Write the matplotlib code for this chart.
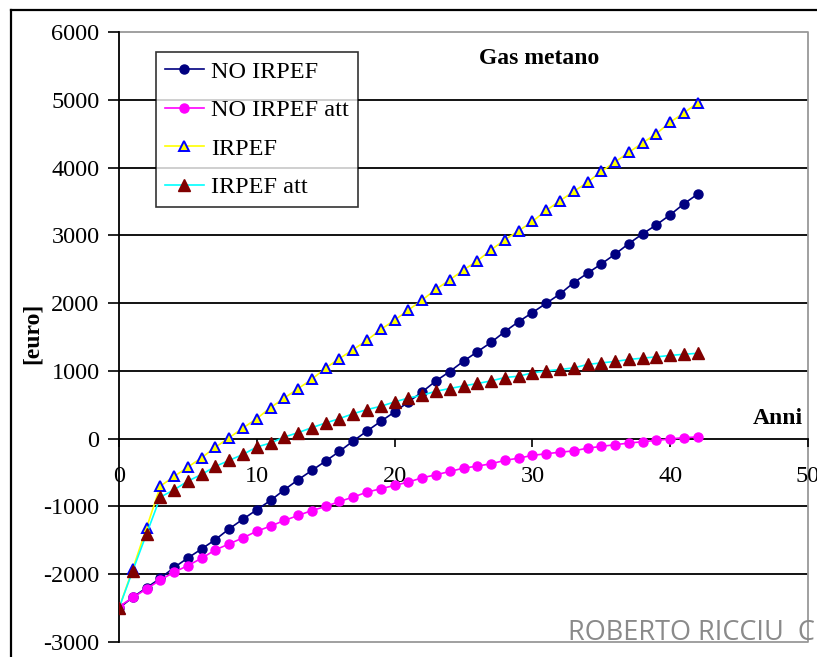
import matplotlib
matplotlib.use("Agg")
import matplotlib.pyplot as plt
from matplotlib.lines import Line2D

plt.rcParams["axes.unicode_minus"] = False

# ---- data ----
anni = list(range(43))

no_irpef = [-2500, -2340, -2200, -2060, -1900, -1760, -1626, -1488, -1330, -1187,
            -1049, -911, -754, -606, -468, -330, -187, -34, 113, 256,
            394, 542, 690, 852, 990, 1143, 1282, 1420, 1580, 1726,
            1860, 1997, 2135, 2302, 2441, 2578, 2722, 2879, 3022, 3155,
            3303, 3466, 3609]

no_irpef_att = [-2480, -2343, -2217, -2084, -1970, -1872, -1764, -1640, -1552, -1463,
                -1365, -1290, -1207, -1133, -1060, -1000, -926, -862, -788, -739,
                -690, -640, -577, -533, -484, -435, -405, -370, -321, -287,
                -247, -222, -200, -180, -140, -114, -89, -65, -45, -25,
                -5, 15, 25]

irpef = [-2500, -1921, -1315, -700, -557, -419, -281, -125, 15, 158,
         296, 458, 601, 739, 877, 1044, 1182, 1315, 1453, 1611,
         1749, 1898, 2046, 2204, 2342, 2490, 2623, 2786, 2934, 3067,
         3205, 3367, 3510, 3648, 3781, 3944, 4083, 4225, 4364, 4501,
         4669, 4808, 4956]

irpef_att = [-2500, -1946, -1404, -862, -754, -626, -527, -409, -320, -232,
             -123, -64, 25, 89, 163, 232, 296, 369, 429, 478,
             542, 600, 641, 700, 740, 778, 814, 852, 902, 922,
             971, 1000, 1021, 1044, 1095, 1118, 1139, 1169, 1188, 1207,
             1228, 1245, 1260]

series_labels = ["NO IRPEF", "NO IRPEF att", "IRPEF", "IRPEF att"]
x_ticks = [0, 10, 20, 30, 40, 50]
y_ticks = [-3000, -2000, -1000, 0, 1000, 2000, 3000, 4000, 5000, 6000]

SERIF = "Liberation Serif"

W, H = 817, 657
fig = plt.figure(figsize=(W / 100, H / 100), dpi=100)
fig.patch.set_facecolor("white")


def fxy(px, py):
    """pixel position (from top-left) -> figure fraction"""
    return px / W, 1 - py / H


# outer frame (open on right/bottom)
fx, fy = fxy(10.5, 9.5)
fig.add_artist(Line2D([fx, fx], [fy, 0], transform=fig.transFigure, color="black", lw=1.6))
fig.add_artist(Line2D([fx, 1], [fy, fy], transform=fig.transFigure, color="black", lw=1.6))

left, right, top, bottom = 119, 808, 32, 642
ax = fig.add_axes([left / W, 1 - bottom / H, (right - left) / W, (bottom - top) / H])
ax.set_xlim(0, 50)
ax.set_ylim(-3000, 6000)

# horizontal grid lines
for yv in y_ticks:
    if -3000 < yv < 6000 and yv != 0:
        ax.axhline(yv, color="black", lw=1.3, zorder=1)

# gray plot-area border
ax.plot([0, 1, 1, 0], [1, 1, 0, 0], transform=ax.transAxes, color="#999999",
        lw=1.3, clip_on=False, zorder=1)

for s in ["top", "right"]:
    ax.spines[s].set_visible(False)
ax.spines["bottom"].set_position(("data", 0))
ax.spines["bottom"].set_linewidth(1.3)
ax.spines["left"].set_linewidth(1.3)
ax.spines["bottom"].set_zorder(2)

ax.set_xticks(x_ticks)
ax.set_yticks(y_ticks)
ax.tick_params(axis="x", direction="out", length=6, width=1.2, pad=14,
               labelsize=17.5)
ax.tick_params(axis="y", direction="out", length=8, width=1.2, pad=6,
               labelsize=17.5)
for lab in ax.get_xticklabels() + ax.get_yticklabels():
    lab.set_fontfamily(SERIF)

# series
ax.plot(anni, no_irpef, color="#000080", lw=1.2, marker="o", ms=6.5,
        mfc="#000080", mec="#000080", label=series_labels[0], zorder=3)
ax.plot(anni, no_irpef_att, color="#FF00FF", lw=1.2, marker="o", ms=6.5,
        mfc="#FF00FF", mec="#FF00FF", label=series_labels[1], zorder=4)
ax.plot(anni, irpef, color="#FFFF00", lw=1.2, marker="^", ms=7.8,
        mfc="#FFFF00", mec="#0000FF", mew=1.4, label=series_labels[2], zorder=5)
ax.plot(anni, irpef_att, color="#00FFFF", lw=1.2, marker="^", ms=8.3,
        mfc="#800000", mec="#800000", label=series_labels[3], zorder=6)

# texts
fig.text(*fxy(539, 59), "Gas metano", fontfamily=SERIF, fontweight="bold",
         fontsize=17, ha="center", va="center")
fig.text(*fxy(803, 424), "Anni", fontfamily=SERIF, fontweight="bold",
         fontsize=17, ha="right", va="baseline")
fig.text(*fxy(32, 333), "[euro]", rotation=90, fontfamily=SERIF,
         fontweight="bold", fontsize=17, ha="center", va="center")

# legend
leg = ax.legend(loc="upper left", bbox_to_anchor=((156 - left) / (right - left),
                                                  (bottom - 52) / (bottom - top)),
                borderaxespad=0, prop={"family": SERIF, "size": 17.5},
                frameon=True, fancybox=False, edgecolor="black",
                handlelength=1.6, handletextpad=0.3, labelspacing=0.68,
                borderpad=0.36)
leg.get_frame().set_linewidth(1.2)
leg.set_zorder(10)

# watermark
fig.text(*fxy(568, 640), "ROBERTO RICCIU  C", fontfamily="Open Sans",
         fontsize=19.5, color="#8a8a8a", ha="left", va="baseline", zorder=20)

fig.savefig("out.png", dpi=100)
